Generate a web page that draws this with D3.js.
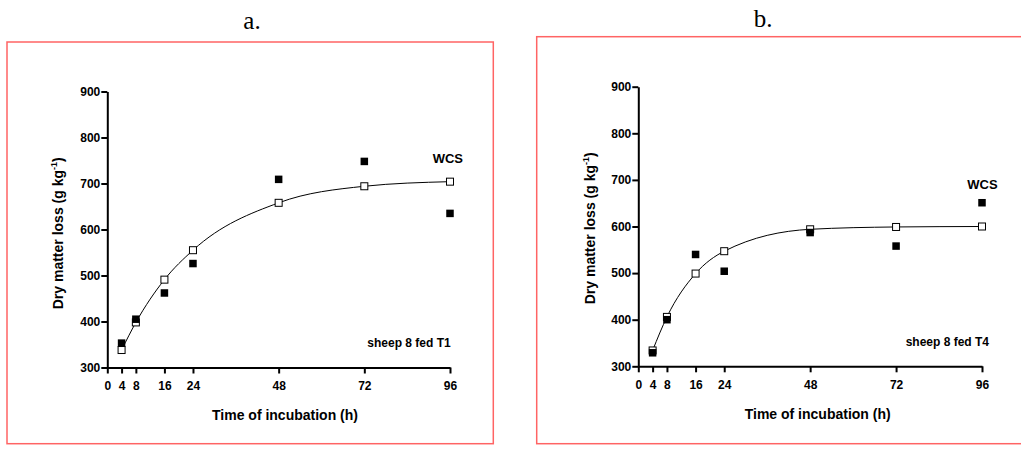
<!DOCTYPE html>
<html>
<head>
<meta charset="utf-8">
<script src="https://cdn.jsdelivr.net/npm/d3@7"></script>
<style>
  body { margin: 0; background: #fff; }
  svg { display: block; }
  .tick text { font-family: "Liberation Sans", Arial, sans-serif; font-weight: bold; font-size: 12px; fill: #000; }
</style>
</head>
<body>
<svg id="chart" width="1021" height="454"></svg>
<script>
// incubation times (h) and axis ticks
var hours = [4, 8, 16, 24, 48, 72, 96];
var xTicks = [0, 4, 8, 16, 24, 48, 72, 96];
var yTicks = [300, 400, 500, 600, 700, 800, 900];

// sheep 8 fed T1: fitted (open) and observed (filled) dry matter loss, g/kg
var fittedT1 = [338, 398, 491, 555, 658, 694, 704];
var observedT1 = [353, 405, 462, 526, 709, 748, 635];

// sheep 8 fed T4
var fittedT4 = [334, 406, 499, 547, 594, 599, 600];
var observedT4 = [329, 400, 540, 504, 587, 558, 651];

var svg = d3.select("#chart");

var panels = [
    {
        letter: "a.", letterX: 252, letterY: 29,
        box: [7, 42, 493.3, 443.7],
        x: [107.3, 450], y: [367.5, 91.5],
        fitted: fittedT1, observed: observedT1,
        wcs: [463, 162.7], note: "sheep 8 fed T1", noteAt: [450.7, 346.7],
        xTitle: [285, 420], yTitle: [63, 233.3]
    },
    {
        letter: "b.", letterX: 763, letterY: 27,
        box: [536.7, 36.7, 1040, 443.7],
        x: [638.3, 982], y: [366.3, 86.7],
        fitted: fittedT4, observed: observedT4,
        wcs: [997.7, 189], note: "sheep 8 fed T4", noteAt: [989, 346],
        xTitle: [817.7, 419], yTitle: [595, 228.3]
    }
];

panels.forEach(function(p) {
    // panel letter above the frame
    svg.append("text")
        .attr("x", p.letterX)
        .attr("y", p.letterY)
        .attr("text-anchor", "middle")
        .style("font-family", "'Liberation Serif', 'Times New Roman', serif")
        .style("font-size", "25px")
        .text(p.letter);

    // red frame
    svg.append("rect")
        .attr("x", p.box[0])
        .attr("y", p.box[1])
        .attr("width", p.box[2] - p.box[0])
        .attr("height", p.box[3] - p.box[1])
        .attr("fill", "none")
        .attr("stroke", "#ff6464")
        .attr("stroke-width", 1.5);

    var x = d3.scaleLinear().domain([0, 96]).range(p.x);
    var y = d3.scaleLinear().domain([300, 900]).range(p.y);

    // axes
    var gx = svg.append("g")
        .attr("transform", "translate(0," + p.y[0] + ")")
        .call(d3.axisBottom(x).tickValues(xTicks).tickSize(6).tickPadding(8).tickSizeOuter(0));
    var gy = svg.append("g")
        .attr("transform", "translate(" + p.x[0] + ",0)")
        .call(d3.axisLeft(y).tickValues(yTicks).tickSize(6).tickPadding(1).tickSizeOuter(0));
    [gx, gy].forEach(function(g) {
        g.select(".domain").attr("stroke", "#000").attr("stroke-width", 2);
        g.selectAll(".tick line").attr("stroke", "#000").attr("stroke-width", 2);
    });

    // fitted curve through the open squares
    var line = d3.line()
        .x(function(d, i) { return x(hours[i]); })
        .y(function(d) { return y(d); })
        .curve(d3.curveMonotoneX);
    svg.append("path")
        .datum(p.fitted)
        .attr("d", line)
        .attr("fill", "none")
        .attr("stroke", "#000")
        .attr("stroke-width", 1);

    // fitted values - open squares
    svg.append("g").selectAll("rect")
        .data(p.fitted)
        .enter()
        .append("rect")
        .attr("x", function(d, i) { return x(hours[i]) - 3.5; })
        .attr("y", function(d) { return y(d) - 3.5; })
        .attr("width", 7)
        .attr("height", 7)
        .attr("fill", "#fff")
        .attr("stroke", "#000")
        .attr("stroke-width", 1);

    // observed values - filled squares
    svg.append("g").selectAll("rect")
        .data(p.observed)
        .enter()
        .append("rect")
        .attr("x", function(d, i) { return x(hours[i]) - 3.75; })
        .attr("y", function(d) { return y(d) - 3.75; })
        .attr("width", 7.5)
        .attr("height", 7.5)
        .attr("fill", "#000");

    var bold = "'Liberation Sans', Arial, sans-serif";

    svg.append("text")
        .attr("x", p.wcs[0])
        .attr("y", p.wcs[1])
        .attr("text-anchor", "end")
        .style("font-family", bold).style("font-weight", "bold").style("font-size", "13px")
        .text("WCS");

    svg.append("text")
        .attr("x", p.noteAt[0])
        .attr("y", p.noteAt[1])
        .attr("text-anchor", "end")
        .style("font-family", bold).style("font-weight", "bold").style("font-size", "12px")
        .text(p.note);

    svg.append("text")
        .attr("x", p.xTitle[0])
        .attr("y", p.xTitle[1])
        .attr("text-anchor", "middle")
        .style("font-family", bold).style("font-weight", "bold").style("font-size", "14px")
        .text("Time of incubation (h)");

    var yt = svg.append("text")
        .attr("transform", "translate(" + p.yTitle[0] + "," + p.yTitle[1] + ") rotate(-90)")
        .attr("text-anchor", "middle")
        .style("font-family", bold).style("font-weight", "bold").style("font-size", "14px");
    yt.append("tspan").text("Dry matter loss (g kg");
    yt.append("tspan").attr("dy", -6).style("font-size", "9px").text("-1");
    yt.append("tspan").attr("dy", 6).text(")");
});
</script>
</body>
</html>
